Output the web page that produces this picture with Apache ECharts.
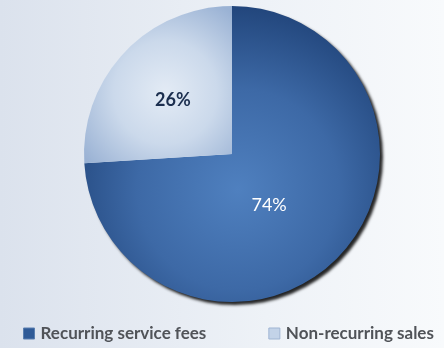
<!DOCTYPE html>
<html>
<head>
<meta charset="utf-8">
<script src="https://cdn.jsdelivr.net/npm/echarts@6/dist/echarts.min.js"></script>
<style>
  html, body { margin: 0; padding: 0; }
  body { background: linear-gradient(to right, #dbe2ed 0%, #eef2f7 60%, #f8fafc 100%); }
  #chart { width: 444px; height: 348px; }
</style>
</head>
<body>
<div id="chart"></div>
<script>
// Revenue split
const categories = ["Recurring service fees", "Non-recurring sales"];
const shares = [74, 26];

const chart = echarts.init(document.getElementById("chart"), null, { renderer: "canvas" });

// dark slice: lighter centre, darker rim
const darkFill = {
  type: "radial", x: 0.52, y: 0.62, r: 0.62,
  colorStops: [
    { offset: 0, color: "#4f80bf" },
    { offset: 0.55, color: "#3d69a6" },
    { offset: 1, color: "#22467c" }
  ]
};
// light slice: pale middle, bluish edges
const lightFill = {
  type: "radial", x: 0.55, y: 0.55, r: 0.7,
  colorStops: [
    { offset: 0, color: "#e3ebf5" },
    { offset: 0.5, color: "#cbd9eb" },
    { offset: 1, color: "#9ab2d4" }
  ]
};

const colors = [darkFill, lightFill];
const shadows = ["rgba(0,0,0,0.85)", "rgba(0,0,0,0)"];
const labelStyles = [
  { color: "#ffffff", fontWeight: "normal", offset: [-19, -2] },
  { color: "#1c2f4f", fontWeight: "bold", offset: [-3, -1] }
];

const data = categories.map((name, i) => ({
  name: name,
  value: shares[i],
  itemStyle: { color: colors[i], shadowColor: shadows[i] },
  label: {
    color: labelStyles[i].color,
    fontWeight: labelStyles[i].fontWeight,
    offset: labelStyles[i].offset
  }
}));

chart.setOption({
  animation: false,
  legend: {
    bottom: 1,
    left: 18,
    itemGap: 62,
    itemWidth: 11,
    itemHeight: 11,
    icon: "rect",
    textStyle: { fontFamily: "Lato", fontSize: 17, fontWeight: "bold", color: "#505358", padding: [0, 0, 0, 1] },
    data: [
      { name: categories[0], itemStyle: { color: "#2f5a97", borderColor: "#5a7fb0", borderWidth: 1 } },
      { name: categories[1], itemStyle: { color: "#c3d3e8", borderColor: "#9fb5d3", borderWidth: 1 } }
    ]
  },
  series: [{
    type: "pie",
    center: [232, 154],
    radius: 148,
    startAngle: 90,
    clockwise: true,
    silent: true,
    label: {
      show: true,
      position: "inside",
      formatter: "{c}%",
      fontFamily: "Lato",
      fontSize: 18
    },
    labelLine: { show: false },
    itemStyle: {
      borderWidth: 0,
      shadowBlur: 3,
      shadowOffsetX: 3,
      shadowOffsetY: 3
    },
    data: data
  }]
});
</script>
</body>
</html>
